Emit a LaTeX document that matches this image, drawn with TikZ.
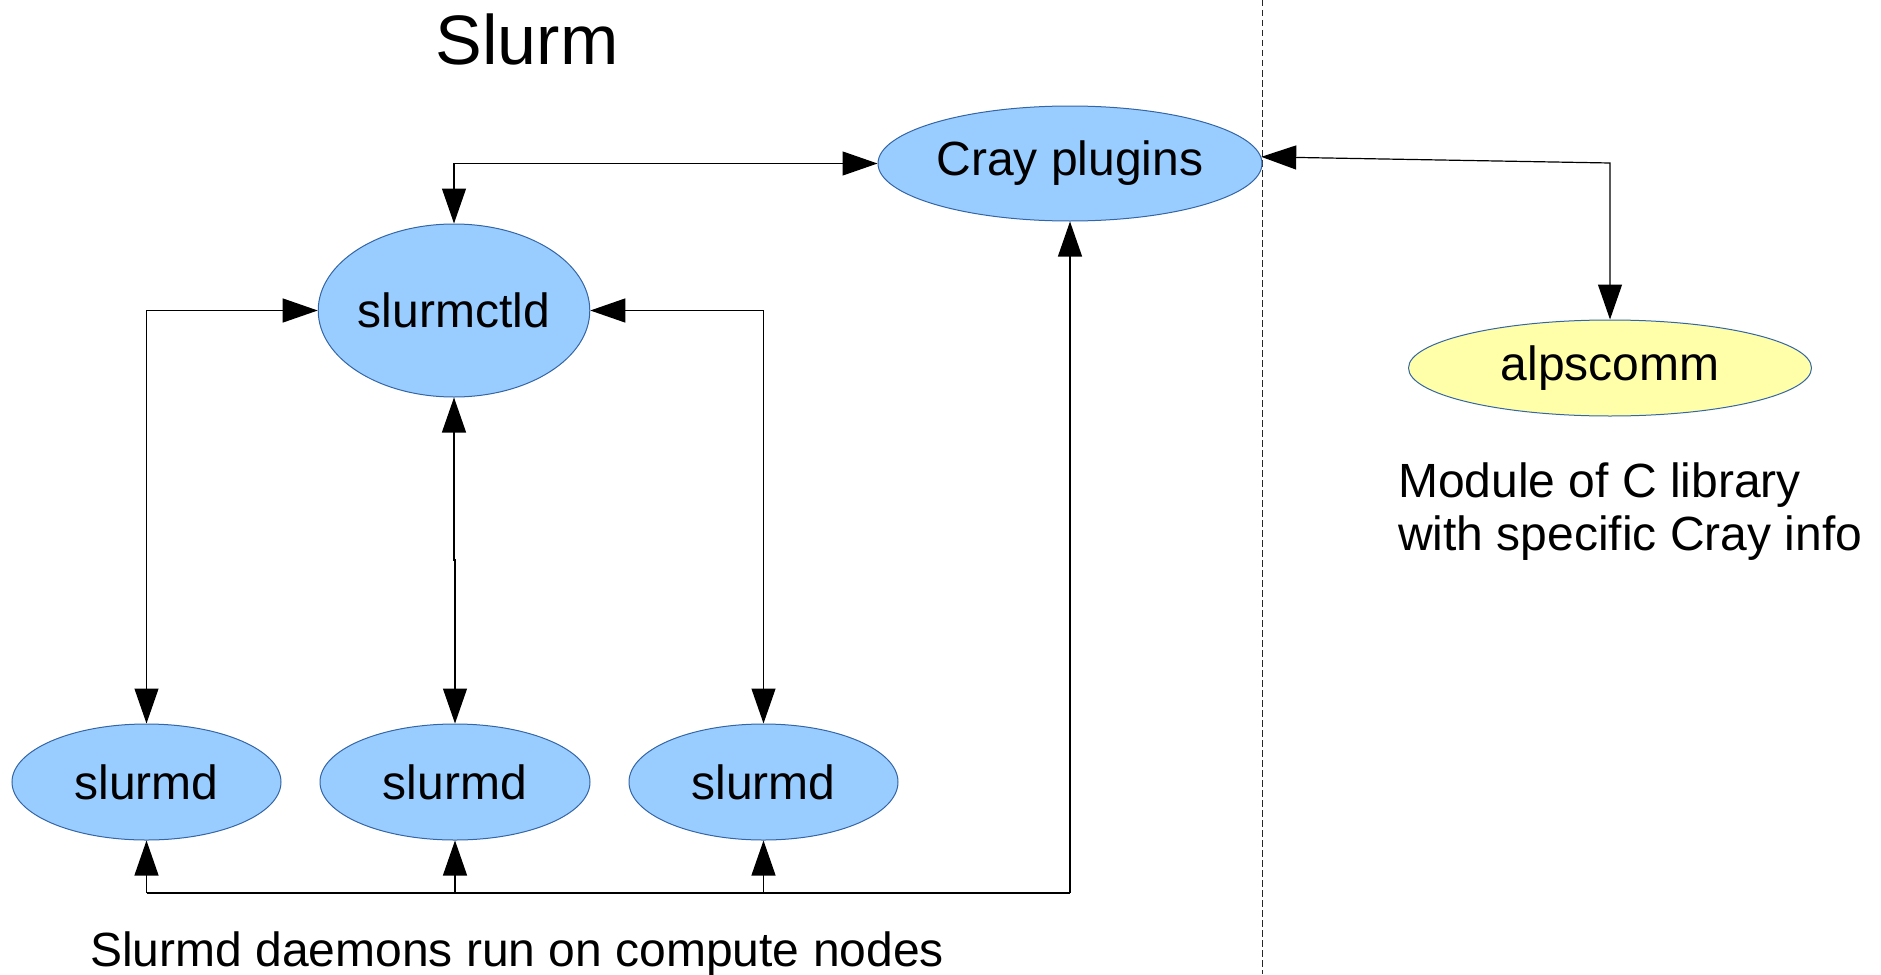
\documentclass[tikz,border=0pt]{standalone}
\usepackage{fontspec}
\setmainfont{Liberation Sans}
\usetikzlibrary{arrows.meta,shapes.geometric}
\definecolor{nodeblue}{HTML}{99CCFF}
\definecolor{nodeyellow}{HTML}{FFFFAA}
\definecolor{edgeblue}{HTML}{3465A4}
\tikzset{
  bubble/.style={ellipse, draw=edgeblue, line width=1pt, fill=nodeblue, inner sep=0pt,
    font=\fontsize{48}{53}\selectfont},
  conn/.style={line width=1.2pt, draw=black},
  tipboth/.style={conn, {Triangle[length=35pt 0 0,width=24pt 0 0]}-{Triangle[length=35pt 0 0,width=24pt 0 0]}},
  tipend/.style={conn, -{Triangle[length=35pt 0 0,width=24pt 0 0]}},
  plaintext/.style={inner sep=0pt, font=\fontsize{48}{53}\selectfont},
}
\begin{document}
\begin{tikzpicture}[x=1pt,y=-1pt]
\path[use as bounding box] (0,0) rectangle (1881,974);

% separator
\coordinate (dtop) at (1262,0);
\coordinate (dbot) at (1262,974);
\draw[line width=0.9pt, draw=black!85, dash pattern=on 6.5pt off 3.5pt] (dtop) -- (dbot);

% nodes
\node[bubble, minimum width=384pt, minimum height=115pt] (cray) at (1070,163.5) {Cray plugins};
\node[bubble, minimum width=269pt, minimum height=173pt] (ctld) at (454,310.5) {slurmctld};
\node[bubble, minimum width=269pt, minimum height=116pt] (d1) at (146.5,782) {slurmd};
\node[bubble, minimum width=270pt, minimum height=116pt] (d2) at (455,782) {slurmd};
\node[bubble, minimum width=269pt, minimum height=116pt] (d3) at (763.5,782) {slurmd};
\node[bubble, fill=nodeyellow, minimum width=403pt, minimum height=96pt] (alps) at (1610,368) {\raisebox{-4pt}{alpscomm}};

% texts
\node[plaintext, font=\fontsize{70}{80}\selectfont, anchor=base] (title) at (527,64) {Slurm};
\node[plaintext, anchor=base] (caption) at (517,966) {Slurmd daemons run on compute nodes};
\node[plaintext, anchor=base west, align=left] (module) at (1398,550) {Module of C library\\with specific Cray info};

% connectors
\draw[tipboth] (ctld.north) |- (cray.west);
\draw[tipboth] (d1.north) |- (ctld.west);
\draw[tipboth] (d3.north) |- (ctld.east);
\coordinate (jog) at (0,560);
\draw[tipboth] (ctld.south) -- (ctld.south |- jog) -- (d2.north |- jog) -- (d2.north);

\coordinate (bus) at (1070,893);
\draw[tipend] (bus) -- (cray.south);
\draw[conn] (d1.south |- bus) -- (bus);
\draw[tipend] (d1.south |- bus) -- (d1.south);
\draw[tipend] (d2.south |- bus) -- (d2.south);
\draw[tipend] (d3.south |- bus) -- (d3.south);

\coordinate (corner) at (1610,163);
\draw[tipboth] (cray.2) -- (corner) -- (alps.north);
\end{tikzpicture}
\end{document}
